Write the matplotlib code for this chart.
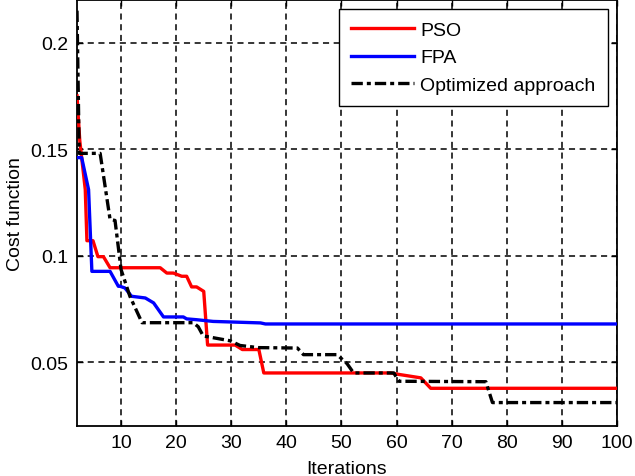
import matplotlib
matplotlib.use("Agg")
import matplotlib.pyplot as plt

_FONT = "Liberation Sans"

# PSO curve (vertices)
pso_x = [2, 2.5, 3.5, 3.8, 4.9, 5.8, 6.8, 8, 17.1, 18.3, 19.5, 21, 21.9, 22.8, 23.7, 25,
         25.7, 30.7, 32, 35, 35.9, 58.9, 60.7, 64.4, 66.2, 100]
pso_y = [0.175, 0.154, 0.131, 0.107, 0.107, 0.0995, 0.0995, 0.0943, 0.0943, 0.0918, 0.0918,
         0.0903, 0.0903, 0.0853, 0.0853, 0.0832, 0.058, 0.058, 0.0559, 0.0559, 0.0449, 0.0449,
         0.0441, 0.0426, 0.0377, 0.0377]

# FPA curve
fpa_x = [2, 2.85, 4.1, 4.7, 8, 9.5, 9.8, 10.7, 11.9, 14.4, 15.9, 17.7, 21.3, 21.9, 23.7,
         26.7, 35.3, 36.2, 100]
fpa_y = [0.146, 0.146, 0.131, 0.0926, 0.0926, 0.0856, 0.0856, 0.0848, 0.0809, 0.0801, 0.0778,
         0.0712, 0.0712, 0.0703, 0.0699, 0.0691, 0.0684, 0.0679, 0.0679]

# Optimized approach curve
opt_x = [2, 2.4, 6.2, 8, 8.9, 10, 11.6, 13.8, 23.1, 24, 24.9, 29.8, 31.6, 34.9, 42, 43.1,
         49.2, 51, 52.2, 59.5, 60.4, 76.2, 77.4, 100]
opt_y = [0.215, 0.148, 0.148, 0.117, 0.1165, 0.0934, 0.0809, 0.0685, 0.0685, 0.0666, 0.0623,
         0.0600, 0.0578, 0.0568, 0.0566, 0.0535, 0.0535, 0.0493, 0.0449, 0.0449, 0.041, 0.0408,
         0.031, 0.031]

labels = ["PSO", "FPA", "Optimized approach"]
x_ticks = [10, 20, 30, 40, 50, 60, 70, 80, 90, 100]
y_ticks = [0.05, 0.1, 0.15, 0.2]
y_tick_labels = ["0.05", "0.1", "0.15", "0.2"]

plt.rcParams["font.family"] = [_FONT, "DejaVu Sans"]

fig = plt.figure(figsize=(6.35, 4.77), dpi=100)
ax = fig.add_axes([77 / 635, 1 - 427 / 477, 540 / 635, 426 / 477])

ax.plot(pso_x, pso_y, color="#ff0000", lw=2.4, label=labels[0], zorder=3)
ax.plot(fpa_x, fpa_y, color="#0000ff", lw=2.4, label=labels[1], zorder=3)
ax.plot(opt_x, opt_y, color="black", lw=2.4, dashes=(3.4, 1.2, 1.2, 1.2),
        label=labels[2], zorder=4)

ax.set_xlim(2, 100)
ax.set_ylim(0.02, 0.22)
ax.set_xticks(x_ticks)
ax.set_yticks(y_ticks)
ax.set_yticklabels(y_tick_labels)

ax.grid(True, color="black", lw=1.1, linestyle=(0, (4, 3)))
ax.tick_params(direction="in", length=4, width=1, top=True, right=True,
               labelsize=14, pad=6)
for s in ax.spines.values():
    s.set_linewidth(1.3)

ax.set_xlabel("Iterations", fontsize=14, labelpad=6)
ax.set_ylabel("Cost function", fontsize=14, labelpad=5)

leg = ax.legend(loc="upper right", fontsize=14, frameon=True, fancybox=False,
                edgecolor="black", framealpha=1, handlelength=3.2,
                handletextpad=0.35, labelspacing=0.5, borderaxespad=0.45,
                borderpad=0.65)
leg.get_frame().set_linewidth(1.0)

fig.savefig("out.png", dpi=100)
